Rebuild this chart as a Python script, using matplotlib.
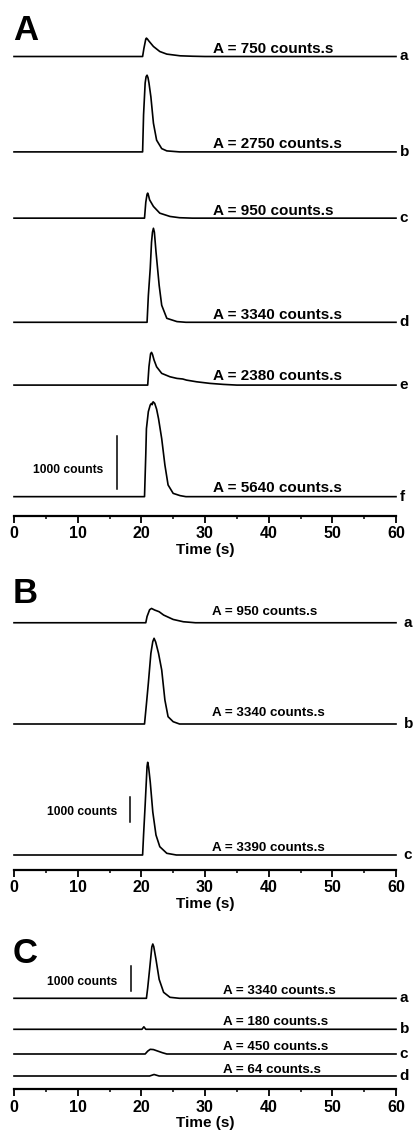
import matplotlib
matplotlib.use("Agg")
import matplotlib.pyplot as plt
from matplotlib.ticker import MultipleLocator

plt.rcParams['font.family'] = ['Liberation Sans', 'DejaVu Sans']

# ---------------- data (time in s, signal in counts above each trace baseline) -------------
# Panel A
Aa_t = [0, 20.2, 20.4, 20.7, 20.8, 20.95, 21.2, 21.9, 22.9, 24.0, 26.1, 28.0, 30.0, 60]
Aa_y = [0, 0, 150, 330, 347, 330, 290, 189, 94, 45, 13, 5, 0, 0]
Ab_t = [0, 20.2, 20.35, 20.6, 20.75, 20.9, 21.05, 21.2, 21.5, 21.9, 22.4, 23.2, 24.0, 26.0, 60]
Ab_y = [0, 0, 700, 1300, 1420, 1447, 1400, 1300, 1038, 542, 221, 62, 19, 0, 0]
Ac_t = [0, 20.5, 20.7, 20.9, 21.0, 21.1, 21.3, 21.9, 22.9, 24.5, 26.0, 28.0, 60]
Ac_y = [0, 0, 300, 450, 472, 440, 345, 221, 94, 32, 8, 0, 0]
Ad_t = [0, 20.9, 21.1, 21.4, 21.6, 21.75, 21.9, 22.05, 22.3, 22.8, 23.2, 24.0, 25.6, 27.0, 60]
Ad_y = [0, 0, 500, 1019, 1510, 1700, 1774, 1700, 1334, 698, 321, 75, 13, 0, 0]
Ae_t = [0, 21.0, 21.2, 21.45, 21.6, 21.75, 22.0, 22.4, 23.2, 24.5, 25.6, 26.5, 27.1, 28.7, 30.8, 32.9, 35.0, 60]
Ae_y = [0, 0, 350, 590, 617, 580, 472, 345, 221, 157, 126, 115, 94, 62, 32, 13, 0, 0]
Af_t = [0, 20.5, 20.7, 20.8, 21.1, 21.4, 21.6, 21.7, 21.85, 22.1, 22.4, 22.7, 23.2, 23.7, 24.2, 25.0, 26.1, 27.0, 60]
Af_y = [0, 0, 800, 1283, 1604, 1730, 1760, 1735, 1790, 1760, 1650, 1472, 1094, 598, 221, 62, 19, 0, 0]
A_offsets = [8670, 6870, 5620, 3655, 2470, 365]
A_areas = [750, 2750, 950, 3340, 2380, 5640]
A_letters = ['a', 'b', 'c', 'd', 'e', 'f']

# Panel B
Ba_t = [0, 20.7, 20.9, 21.3, 21.6, 21.85, 22.1, 22.5, 22.8, 23.5, 25.0, 26.6, 28.5, 60]
Ba_y = [0, 0, 250, 520, 572, 540, 508, 470, 440, 308, 132, 40, 0, 0]
Bb_t = [0, 20.5, 20.8, 21.1, 21.5, 21.8, 22.0, 22.25, 22.7, 23.2, 23.7, 24.2, 25.0, 26.0, 60]
Bb_y = [0, 0, 800, 1628, 2828, 3300, 3428, 3280, 2828, 2160, 960, 292, 92, 0, 0]
Bc_t = [0, 20.2, 20.35, 20.6, 20.9, 21.0, 21.15, 21.4, 21.8, 22.3, 22.9, 24.0, 25.5, 60]
Bc_y = [0, 0, 800, 2000, 3550, 3708, 3500, 2920, 1720, 800, 332, 68, 0, 0]
B_offsets = [9890, 5840, 600]
B_areas = [950, 3340, 3390]
B_letters = ['a', 'b', 'c']

# Panel C
Ca_t = [0, 20.8, 21.0, 21.3, 21.65, 21.8, 21.95, 22.3, 22.8, 23.5, 24.5, 26.0, 60]
Ca_y = [0, 0, 400, 1117, 1980, 2090, 1990, 1500, 730, 230, 38, 0, 0]
Cb_t = [0, 20.1, 20.4, 20.7, 60]
Cb_y = [0, 0, 96, 0, 0]
Cc_t = [0, 20.6, 21.0, 21.4, 21.9, 22.6, 23.3, 24.0, 60]
Cc_y = [0, 0, 110, 180, 170, 110, 50, 0, 0]
Cd_t = [0, 21.3, 22.0, 22.8, 60]
Cd_y = [0, 0, 58, 0, 0]
C_offsets = [3503, 2310, 1359, 512]
C_areas = [3340, 180, 450, 64]
C_letters = ['a', 'b', 'c', 'd']

x_ticks = [0, 10, 20, 30, 40, 50, 60]
scale_bar_counts = 1000

# ---------------- layout ----------------
W, H = 413, 1130
fig = plt.figure(figsize=(W / 100, H / 100), dpi=100)


def add_axes(top_px, bottom_px, ytop):
    ax = fig.add_axes([14 / W, 1 - bottom_px / H, (396 - 14) / W, (bottom_px - top_px) / H])
    ax.set_xlim(0, 60)
    ax.set_ylim(0, ytop)
    for s in ['top', 'right', 'left']:
        ax.spines[s].set_visible(False)
    ax.spines['bottom'].set_linewidth(1.6)
    ax.set_yticks([])
    ax.set_xticks(x_ticks)
    ax.xaxis.set_minor_locator(MultipleLocator(5))
    ax.tick_params(axis='x', which='major', direction='out', length=5, width=1.3,
                   pad=2.5, labelsize=11.5)
    ax.tick_params(axis='x', which='minor', direction='out', length=2.5, width=1.1)
    for lab in ax.get_xticklabels():
        lab.set_fontweight('bold')
    ax.set_xlabel('Time (s)', fontsize=11, fontweight='bold', labelpad=1)
    ax.patch.set_visible(False)
    return ax


def draw_panel(ax, traces, offsets, areas, letters, text_x, text_dy, text_size, letter_x):
    for (t, y), off, area, let, dy in zip(traces, offsets, areas, letters, text_dy):
        ax.plot(t, [v + off for v in y], color='black', lw=1.2, clip_on=False,
                solid_joinstyle='round')
        ax.annotate(f'A = {area} counts.s', xy=(text_x, off), xytext=(0, dy * 0.72),
                    textcoords='offset points', ha='left', va='baseline',
                    fontsize=text_size, fontweight='bold', annotation_clip=False)
        ax.annotate(let, xy=(letter_x, off), ha='left', va='center',
                    fontsize=11, fontweight='bold', annotation_clip=False)


def scale_bar(ax, t_bar, y0, t_text, y_text):
    ax.plot([t_bar, t_bar], [y0, y0 + scale_bar_counts], color='black', lw=1.1, clip_on=False)
    ax.text(t_text, y_text, f'{scale_bar_counts} counts', ha='right', va='center',
            fontsize=8.7, fontweight='bold')


# Panel A
axA = add_axes(30, 516, 9170)
draw_panel(axA, [(Aa_t, Aa_y), (Ab_t, Ab_y), (Ac_t, Ac_y), (Ad_t, Ad_y), (Ae_t, Ae_y), (Af_t, Af_y)],
           A_offsets, A_areas, A_letters, 31.3, [3, 4, 3, 3, 5, 5], 11, 60.6)
scale_bar(axA, 16.1, 503, 14.0, 868)

# Panel B
axB = add_axes(595, 870, 11000)
draw_panel(axB, [(Ba_t, Ba_y), (Bb_t, Bb_y), (Bc_t, Bc_y)],
           B_offsets, B_areas, B_letters, 31.1, [8, 8.5, 4], 9.6, 61.2)
scale_bar(axB, 18.2, 1920, 16.2, 2332)

# Panel C
axC = add_axes(935, 1089.3, 5940)
draw_panel(axC, [(Ca_t, Ca_y), (Cb_t, Cb_y), (Cc_t, Cc_y), (Cd_t, Cd_y)],
           C_offsets, C_areas, C_letters, 32.8, [4.5, 4.5, 4, 3], 9.6, 60.6)
scale_bar(axC, 18.3, 3765, 16.2, 4143)

# panel letters
for lab, base_px in [('A', 40), ('B', 603), ('C', 963)]:
    fig.text(13 / W, 1 - base_px / H, lab, fontsize=25, fontweight='bold',
             ha='left', va='baseline')

fig.savefig('out.png', dpi=100)
